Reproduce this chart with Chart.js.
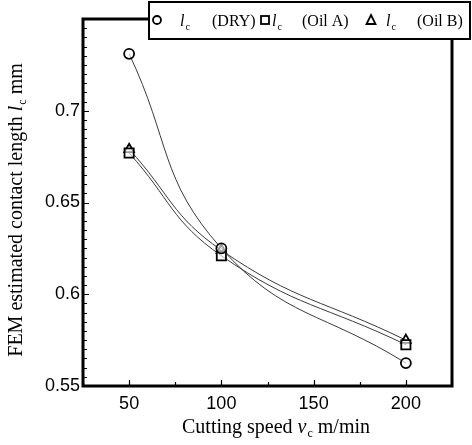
<!DOCTYPE html>
<html>
<head>
<meta charset="utf-8">
<script src="https://cdn.jsdelivr.net/npm/chart.js@4/dist/chart.umd.min.js"></script>
<style>
  html, body { margin: 0; padding: 0; background: #fff; }
  #wrap { position: relative; width: 472px; height: 445px; }
</style>
</head>
<body>
<div id="wrap"><canvas id="chart" width="472" height="445"></canvas></div>
<script>
// cutting speed (m/min) and contact length l_c (mm)
const speeds = [50, 100, 200];
const lcDry = [0.731, 0.625, 0.5625];
const lcOilA = [0.677, 0.621, 0.5725];
const lcOilB = [0.679, 0.624, 0.575];

const xTicks = [50, 100, 150, 200];
const xTickLabels = ["50", "100", "150", "200"];
const yTicks = [0.55, 0.6, 0.65, 0.7];
const yTickLabels = ["0.55", "0.6", "0.65", "0.7"];
const xMinor = 25;
const yMinor = 0.005;

const SERIF = "'Liberation Serif', 'Times New Roman', serif";
const SANS = "'Liberation Sans', Arial, sans-serif";

function series(values, style, radius, label) {
    return {
        label: label,
        data: speeds.map((s, i) => ({ x: s, y: values[i] })),
        showLine: true,
        tension: 0.45,
        borderColor: "#3a3a3a",
        borderWidth: 1,
        pointStyle: style,
        pointRadius: radius,
        pointBorderColor: "#000",
        pointBackgroundColor: "rgba(255,255,255,0.6)",
        pointBorderWidth: 1.8,
    };
}

function fontFor(st, fs) {
    if (st === "i") { return `italic ${fs}px ${SERIF}`; }
    if (st === "s") { return `${Math.round(fs * 0.62)}px ${SERIF}`; }
    return `${fs}px ${SERIF}`;
}
// a run of [text, style] pieces; style: "n" normal, "i" italic, "s" subscript
function runWidth(ctx, pieces, fs) {
    let w = 0;
    for (const [txt, st] of pieces) {
        ctx.font = fontFor(st, fs);
        w += ctx.measureText(txt).width + (st === "i" ? 1 : 0);
    }
    return w;
}
function drawRun(ctx, pieces, x, y, fs) {
    for (const [txt, st] of pieces) {
        ctx.font = fontFor(st, fs);
        ctx.fillText(txt, x, st === "s" ? y + fs * 0.22 : y);
        x += ctx.measureText(txt).width + (st === "i" ? 1 : 0);
    }
    return x;
}

const LC = [["l", "i"], ["c", "s"]];
const xTitle = [["Cutting speed ", "n"], ["v", "i"], ["c", "s"], [" m/min", "n"]];
const yTitle = [["FEM estimated contact length ", "n"], ["l", "i"], ["c", "s"], [" mm", "n"]];

const frame = {
    id: "frame",
    afterDraw(chart) {
        const { ctx, chartArea: a, scales } = chart;
        const xs = scales.x, ys = scales.y;
        ctx.save();
        ctx.strokeStyle = "#000";

        // minor / major ticks pointing inward
        ctx.lineWidth = 1.2;
        ctx.beginPath();
        for (let v = 25; v <= 225.001; v += xMinor) {
            const px = Math.round(xs.getPixelForValue(v)) + 0.5;
            const major = xTicks.includes(Math.round(v));
            ctx.moveTo(px, a.bottom);
            ctx.lineTo(px, a.bottom - (major ? 6 : 4));
        }
        for (let k = 0; k <= 40; k++) {
            const v = 0.55 + k * yMinor;
            const py = Math.round(ys.getPixelForValue(v)) + 0.5;
            const major = k % 10 === 0;
            ctx.moveTo(a.left, py);
            ctx.lineTo(a.left + (major ? 6 : 4), py);
        }
        ctx.stroke();

        // thick box
        ctx.lineWidth = 3;
        ctx.strokeRect(a.left, a.top, a.right - a.left, a.bottom - a.top);

        // legend box
        ctx.fillStyle = "#fff";
        ctx.fillRect(149, 2, 321, 37);
        ctx.lineWidth = 2;
        ctx.strokeRect(149, 2, 321, 37);

        ctx.fillStyle = "#000";
        ctx.lineWidth = 1.8;
        ctx.beginPath();
        ctx.arc(157, 20, 4, 0, Math.PI * 2);
        ctx.stroke();
        ctx.strokeRect(261, 16, 8, 8);
        ctx.beginPath();
        ctx.moveTo(371, 15);
        ctx.lineTo(375.5, 24);
        ctx.lineTo(366.5, 24);
        ctx.closePath();
        ctx.stroke();

        ctx.textBaseline = "alphabetic";
        ctx.textAlign = "left";
        const ly = 26;
        drawRun(ctx, LC, 180, ly, 16);
        drawRun(ctx, [["(DRY)", "n"]], 212, ly, 16);
        drawRun(ctx, LC, 272, ly, 16);
        drawRun(ctx, [["(Oil A)", "n"]], 302, ly, 16);
        drawRun(ctx, LC, 386, ly, 16);
        drawRun(ctx, [["(Oil B)", "n"]], 417, ly, 16);

        // x axis title
        const fs = 20;
        const wx = runWidth(ctx, xTitle, fs);
        drawRun(ctx, xTitle, 276 - wx / 2, 433, fs);

        // y axis title (rotated)
        ctx.save();
        ctx.translate(22, 210);
        ctx.rotate(-Math.PI / 2);
        const wy = runWidth(ctx, yTitle, fs);
        drawRun(ctx, yTitle, -wy / 2, 0, fs);
        ctx.restore();

        ctx.restore();
    },
};

new Chart(document.getElementById("chart"), {
    type: "scatter",
    data: {
        datasets: [
            series(lcDry, "circle", 5, "DRY"),
            series(lcOilA, "rect", 6.5, "Oil A"),
            series(lcOilB, "triangle", 5.5, "Oil B"),
        ],
    },
    options: {
        responsive: false,
        animation: false,
        layout: { padding: { left: 0, top: 19, right: 20, bottom: 0 } },
        plugins: { legend: { display: false }, tooltip: { enabled: false } },
        scales: {
            x: {
                type: "linear", min: 25, max: 225,
                grid: { display: false, drawTicks: false },
                border: { display: false },
                afterBuildTicks: s => { s.ticks = xTicks.map(v => ({ value: v })); },
                afterFit: s => { s.height = 59; },
                ticks: {
                    padding: 7, color: "#000", maxRotation: 0,
                    font: { family: SANS, size: 18 },
                    callback: (v) => xTickLabels[xTicks.indexOf(v)] ?? "",
                },
            },
            y: {
                type: "linear", min: 0.55, max: 0.75,
                grid: { display: false, drawTicks: false },
                border: { display: false },
                afterBuildTicks: s => { s.ticks = yTicks.map(v => ({ value: v })); },
                afterFit: s => { s.width = 83; },
                ticks: {
                    padding: 3, color: "#000",
                    font: { family: SANS, size: 18 },
                    callback: (v) => yTickLabels[yTicks.indexOf(v)] ?? "",
                },
            },
        },
    },
    plugins: [frame],
});
</script>
</body>
</html>
